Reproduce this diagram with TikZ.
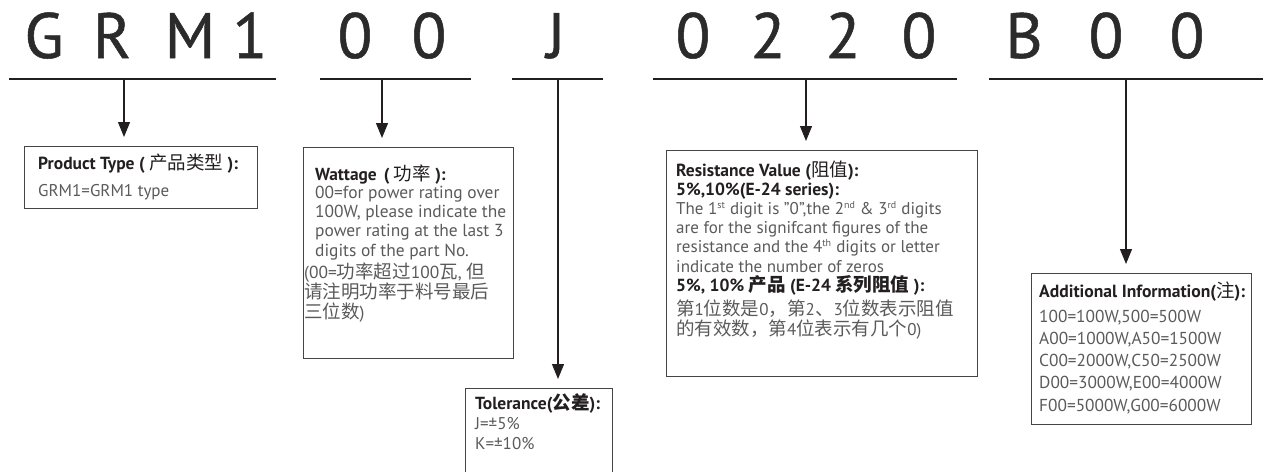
\documentclass[tikz,border=0pt]{standalone}
\usepackage{fontspec}
\setmainfont{PT Sans}
\newfontfamily\cjk{Noto Sans CJK SC}
\newfontfamily\titlefont{PT Sans}[FakeBold=0.8]
\usetikzlibrary{arrows.meta,calc}
\definecolor{ink}{HTML}{231F20}
\definecolor{titleink}{HTML}{2B2B2B}
\definecolor{bodytxt}{HTML}{5A5A5A}
\definecolor{frm}{HTML}{454545}
\newcommand\zh[1]{{\cjk\fontsize{18.5}{20}\selectfont #1}}
\newcommand\zhm[1]{{\cjk\mdseries\fontsize{18.5}{20}\selectfont #1}}
\newcommand\sups[1]{\textsuperscript{\fontsize{10}{10}\selectfont #1}}
\begin{document}
\begin{tikzpicture}[x=1pt,y=-1pt,
  titlech/.style={font=\titlefont\fontsize{64}{64}\selectfont, text=titleink, anchor=base, inner sep=0pt},
  uline/.style={line width=1.8pt, draw=ink},
  arr/.style={line width=1.2pt, draw=ink, -{Triangle[length=15pt,width=12pt]}, shorten >=9pt},
  frame box/.style={draw=frm, line width=0.9pt, anchor=north west, inner sep=0pt},
  txt/.style={anchor=base west, inner sep=0pt, align=left, text=bodytxt, font=\fontsize{17}{19.5}\selectfont}
]
\useasboundingbox (0,0) rectangle (1263,471);
\begin{scope}
\clip (0,0) rectangle (1263,471);
% title letters
\node[titlech] (t1) at (44,58) {G};
\node[titlech] (t2) at (112,58) {R};
\node[titlech] (t3) at (190,58) {M};
\node[titlech] (t4) at (250,58) {1};
\node[titlech] (t5) at (355,58) {0};
\node[titlech] (t6) at (429,58) {0};
\node[titlech] (t7) at (556,58) {J};
\node[titlech] (t8) at (693,58) {0};
\node[titlech] (t9) at (768,58) {2};
\node[titlech] (t10) at (843,58) {2};
\node[titlech] (t11) at (919,58) {0};
\node[titlech] (t12) at (1024,58) {B};
\node[titlech] (t13) at (1106,58) {0};
\node[titlech] (t14) at (1187,58) {0};
% underline end points and stems
\coordinate (u1a) at (9,79);   \coordinate (u1b) at (276,79);
\coordinate (u2a) at (320,79); \coordinate (u2b) at (471,79);
\coordinate (u3a) at (512,79); \coordinate (u3b) at (603,79);
\coordinate (u4a) at (653,79); \coordinate (u4b) at (957,79);
\coordinate (u5a) at (989,79); \coordinate (u5b) at (1270,79);
\coordinate (s1) at (124,79);
\coordinate (s2) at (382,79);
\coordinate (s3) at (558,79);
\coordinate (s4) at (806,79);
\coordinate (s5) at (1126,79);
\draw[uline] (u1a) -- (u1b);
\draw[uline] (u2a) -- (u2b);
\draw[uline] (u3a) -- (u3b);
\draw[uline] (u4a) -- (u4b);
\draw[uline] (u5a) -- (u5b);
% boxes
\node[frame box, minimum width=233pt, minimum height=62pt] (ptype) at (24,146) {};
\node[frame box, minimum width=210pt, minimum height=211pt] (watt) at (303,147) {};
\node[frame box, minimum width=147pt, minimum height=110pt] (tol) at (465,388) {};
\node[frame box, minimum width=311pt, minimum height=226pt] (res) at (666,150) {};
\node[frame box, minimum width=220pt, minimum height=151pt] (add) at (1031,273) {};
% arrows
\draw[arr] (s1) -- (s1 |- ptype.north);
\draw[arr] (s2) -- (s2 |- watt.north);
\draw[arr] (s3) -- (s3 |- tol.north);
\draw[arr] (s4) -- (s4 |- res.north);
\draw[arr] (s5) -- (s5 |- add.north);
% texts (anchored at the baseline of their last line)
\node[txt] (ptypetxt) at (38,196) {{\color{ink}\bfseries\fontsize{17.5}{19.5}\selectfont Product Type ( \zhm{产品类型} ):}\\[7.5pt]GRM1=GRM1 type};
\node[txt, font=\fontsize{17.4}{19.2}\selectfont] (watten) at (315,256) {{\color{ink}\bfseries Wattage\hspace{0.4em}( \zhm{功率} ):}\\[-1pt]00=for power rating over\\100W, please indicate the\\power rating at the last 3\\digits of the part No.};
\node[txt, font=\fontsize{17.4}{19.6}\selectfont] (wattzh) at (304,318) {(00=\zh{功率超过}100\zh{瓦}, \zh{但}\\\zh{请注明功率于料号最后}\\\zh{三位数})};
\node[txt, font=\fontsize{17}{19.2}\selectfont] (restxt) at (676,335) {{\color{ink}\bfseries\fontsize{17.5}{19.2}\selectfont Resistance Value (\zhm{阻值}):}\\{\color{ink}\bfseries\fontsize{17.5}{19.2}\selectfont 5\%,10\%(E-24 series):}\\The 1\sups{st} digit is "0",the 2\sups{nd} \& 3\sups{rd} digits\\are for the signifcant figures of the\\resistance and the 4\sups{th} digits or letter\\indicate the number of zeros\\{\color{ink}\bfseries\fontsize{17.5}{19.2}\selectfont 5\%, 10\% \zh{产品} (E-24 \zh{系列阻值} ):}\\[4pt]\zh{第}1\zh{位数是}0\zh{，第}2\zh{、}3\zh{位数表示阻值}\\\zh{的有效数，第}4\zh{位表示有几个}0)};
\node[txt, font=\fontsize{17.3}{22.2}\selectfont] (addtxt) at (1039,411) {{\color{ink}\bfseries\fontsize{17.6}{22.2}\selectfont Additional Information(\zhm{注}):}\\[3pt]100=100W,500=500W\\A00=1000W,A50=1500W\\C00=2000W,C50=2500W\\D00=3000W,E00=4000W\\F00=5000W,G00=6000W};
\node[txt, font=\fontsize{17}{19.6}\selectfont] (toltxt) at (475,449) {{\color{ink}\bfseries\fontsize{17.5}{19.6}\selectfont Tolerance(\zh{公差}):}\\J=±5\%\\K=±10\%};
\end{scope}
\end{tikzpicture}
\end{document}
